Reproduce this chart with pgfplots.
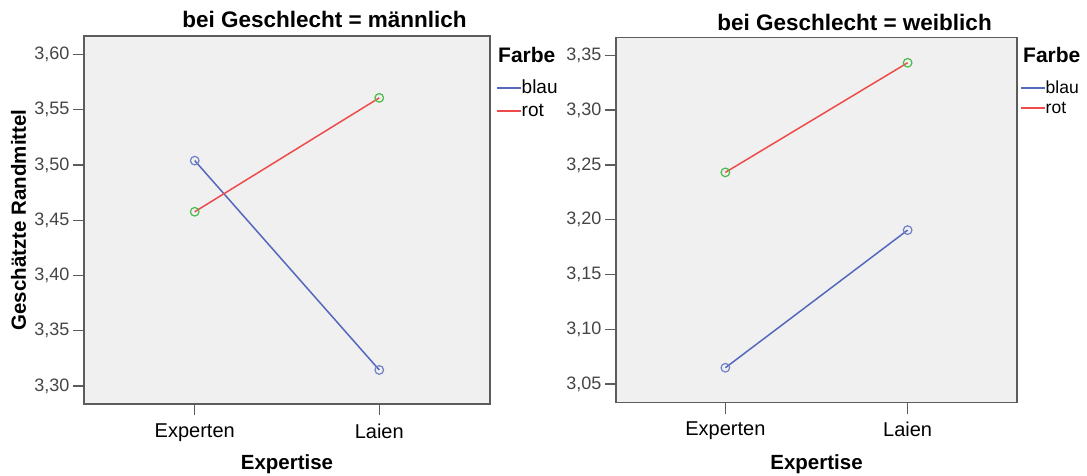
\documentclass[border=0pt]{standalone}
\usepackage{fontspec}
\setmainfont{Liberation Sans}
\usepackage{pgfplots}
\pgfplotsset{compat=1.18}
\definecolor{bgc}{HTML}{F0F0F0}
\definecolor{frame}{HTML}{5C5C5C}
\definecolor{blu}{HTML}{5468BE}
\definecolor{blum}{HTML}{6F7FC8}
\definecolor{rd}{HTML}{EE4B4B}
\definecolor{grn}{HTML}{48BB48}
\definecolor{tickc}{HTML}{454545}
\newcommand{\fs}[1]{\fontsize{#1}{#1}\selectfont}
\pgfplotsset{
  spss/.style={
    scale only axis,
    anchor=south west,
    axis background/.style={fill=bgc},
    axis line style={draw=frame, line width=1.6pt},
    xmin=-0.6, xmax=1.6,
    xtick={0,1}, xticklabels={Experten,Laien},
    tick align=outside,
    xtick pos=bottom, ytick pos=left,
    major tick length=11pt,
    tick style={draw=frame, line width=1.4pt},
    xticklabel style={font=\fs{20}, text=black, yshift=-5pt},
    yticklabel style={font=\fs{18}, text=tickc,
      /pgf/number format/fixed, /pgf/number format/fixed zerofill,
      /pgf/number format/precision=2, /pgf/number format/use comma,
      /pgf/number format/assume math mode=true},
    legend image code/.code={\draw[##1, mark=none, line width=1.7pt] (0pt,5.5pt) -- (24pt,5.5pt);},
    legend style={draw=none, fill=none, inner sep=0pt, outer sep=0pt,
      anchor=north west, row sep=6pt,
      nodes={inner sep=0pt, anchor=base west, text height=13pt, text depth=4pt},
      /tikz/every even column/.append style={column sep=6pt}},
    legend cell align=left,
  },
  blueline/.style={blu, line width=1.5pt, mark=o, mark size=4.3pt,
    mark options={draw=blum, line width=1.2pt, solid}},
  redline/.style={rd, line width=1.5pt, mark=o, mark size=4.3pt,
    mark options={draw=grn, line width=1.2pt, solid}},
}
\begin{document}
\begin{tikzpicture}[x=1pt,y=1pt]
\useasboundingbox (0,0) rectangle (1087,476);
% left panel
\begin{axis}[spss, at={(84pt,72pt)}, width=406pt, height=368pt,
  ymin=3.2837, ymax=3.6168,
  ytick={3.30,3.35,3.40,3.45,3.50,3.55,3.60},
  legend style={at={(1.0148,0.8785)}, font=\fs{19}}]
\addplot[blueline] coordinates {(0,3.5040) (1,3.3145)};
\addplot[redline] coordinates {(0,3.4577) (1,3.5608)};
\legend{blau,rot}
\end{axis}
% right panel
\begin{axis}[spss, at={(616pt,73.3pt)}, width=401pt, height=365pt,
  ymin=3.0329, ymax=3.3662,
  ytick={3.05,3.10,3.15,3.20,3.25,3.30,3.35},
  legend style={at={(1.0075,0.882)}, font=\fs{17.5}, row sep=2.5pt,
    /tikz/every even column/.append style={column sep=5pt}}]
\addplot[blueline] coordinates {(0,3.0648) (1,3.1905)};
\addplot[redline] coordinates {(0,3.2432) (1,3.3433)};
\legend{blau,rot}
\end{axis}
% titles and labels
\node[anchor=base, font=\fs{22.5}\bfseries] at (324.5,448) {bei Geschlecht = männlich};
\node[anchor=base, font=\fs{22.5}\bfseries] at (854.5,445) {bei Geschlecht = weiblich};
\node[anchor=base, font=\fs{20.5}\bfseries] at (287,6) {Expertise};
\node[anchor=base, font=\fs{20.5}\bfseries] at (816.5,6) {Expertise};
\node[rotate=90, font=\fs{20.5}\bfseries] at (18.5,256) {Geschätzte Randmittel};
\node[anchor=base west, font=\fs{21}\bfseries, inner sep=0pt] at (498,413) {Farbe};
\node[anchor=base west, font=\fs{21}\bfseries, inner sep=0pt] at (1023,413) {Farbe};
\end{tikzpicture}
\end{document}
